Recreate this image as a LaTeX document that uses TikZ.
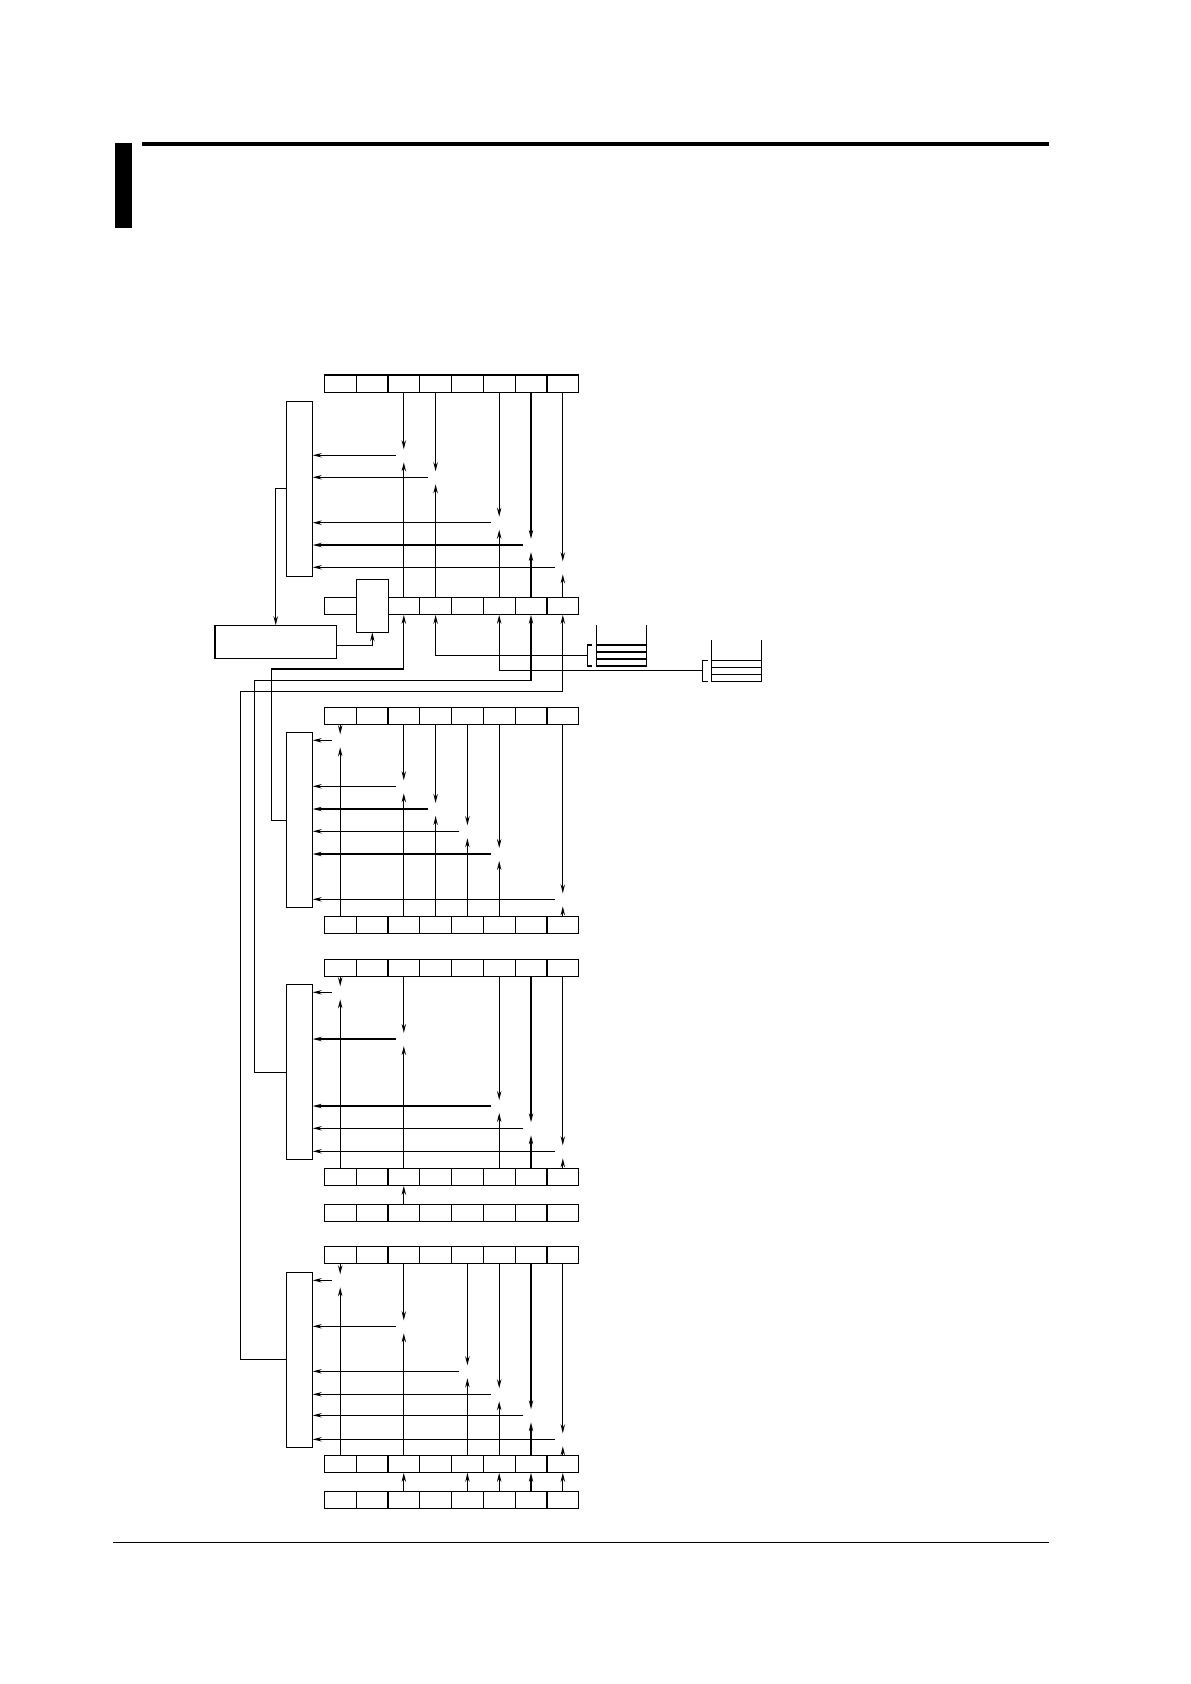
\documentclass[tikz,border=0pt]{standalone}
\usetikzlibrary{arrows.meta,calc}

% one register of 8 cells, #1 name, #2 top edge
\newcommand{\regrow}[2]{%
  \foreach \i in {1,...,8}
    \node[cell] (#1-\i) at (324.3+31.8*\i-15.9,#2+8.75) {};
}
% crossing: #1 upper reg, #2 lower reg, #3 cell, #4 y of line, #5 box
\newcommand{\tapline}[5]{%
  \draw[->] (#1-#3.south) -- ($(#1-#3.south |- 0,#4)+(0,-6)$);
  \draw[->] (#2-#3.north) -- ($(#2-#3.north |- 0,#4)+(0,7)$);
  \draw[->] ($(#1-#3.south |- 0,#4)+(-8,0)$) -- (#5.east |- 0,#4);
}
% tank, #1 name, #2 left wall, #3 top
\newcommand{\tank}[3]{%
  \draw (#2,#3) -- ++(0,41) -- ++(50,0) -- ++(0,-41);
  \foreach \k in {20,27,34} \draw (#2,#3+\k) -- ++(50,0);
  \draw (#2-4,#3+20) -- ++(-5,0) -- ++(0,21) -- ++(5,0);
  \coordinate (#1) at (#2-9,#3+30.5);
}

\begin{document}
\begin{tikzpicture}[x=0.5pt,y=-0.5pt,line width=0.6pt,
    >={Stealth[length=4.5pt,width=2.2pt]},
    cell/.style={draw,minimum width=15.9pt,minimum height=8.75pt,inner sep=0pt,outer sep=0pt},
    tallbox/.style={draw,minimum width=13.2pt,minimum height=87.5pt,inner sep=0pt,outer sep=0pt}]
  \useasboundingbox (0,0) rectangle (1190,1684);

  % page header and footer
  \fill (115,143) rectangle (132,227.7);
  \fill (142,142) rectangle (1049,146);
  \draw (113,1542.3) -- (1049,1542.3);

  % registers
  \regrow{R1}{375}
  \regrow{R2}{597.3}
  \regrow{R3}{707.3}
  \regrow{R4}{916.3}
  \regrow{R5}{959.3}
  \regrow{R6}{1168.3}
  \regrow{R7}{1204.3}
  \regrow{R8}{1246.3}
  \regrow{R9}{1455.3}
  \regrow{R10}{1491.3}

  % boxes
  \node[tallbox] (A) at (299.5,488.8) {};
  \node[tallbox] (B) at (299.5,820.3) {};
  \node[tallbox] (C) at (299.5,1072.2) {};
  \node[tallbox] (D) at (299.5,1359.8) {};
  \node[draw,fill=white,minimum width=16pt,minimum height=26.5pt,inner sep=0pt,outer sep=0pt] (S) at (372.3,605.8) {};
  \node[draw,minimum width=60.75pt,minimum height=16.5pt,inner sep=0pt,outer sep=0pt] (M) at (275.7,641.8) {};

  % first block
  \tapline{R1}{R2}{3}{455.3}{A}
  \tapline{R1}{R2}{4}{477.3}{A}
  \tapline{R1}{R2}{6}{522.7}{A}
  \tapline{R1}{R2}{7}{545}{A}
  \tapline{R1}{R2}{8}{567.3}{A}
  \draw[->] (A.west) -| (M.north);
  \draw[->] ([yshift=-1.75pt]M.east) -| (S.south);

  % tanks
  \tank{T1}{596.3}{625}
  \tank{T2}{711.7}{640.3}
  \draw[->] (T1) -| (R2-4.south);
  \draw[->] (T2) -| (R2-6.south);

  % feedback into R2
  \draw[->] (B.west) -| (271.3,669) -| (R2-3.south);
  \draw[->] (C.west) -| (254.3,680.3) -| (R2-7.south);
  \draw[->] (D.west) -| (240.3,691.3) -| (R2-8.south);

  % second block
  \tapline{R3}{R4}{1}{740.3}{B}
  \tapline{R3}{R4}{3}{786.3}{B}
  \tapline{R3}{R4}{4}{809}{B}
  \tapline{R3}{R4}{5}{831.3}{B}
  \tapline{R3}{R4}{6}{854}{B}
  \tapline{R3}{R4}{8}{899.3}{B}

  % third block
  \tapline{R5}{R6}{1}{992.3}{C}
  \tapline{R5}{R6}{3}{1039}{C}
  \tapline{R5}{R6}{6}{1106}{C}
  \tapline{R5}{R6}{7}{1128.3}{C}
  \tapline{R5}{R6}{8}{1151.3}{C}
  \draw[->] (R7-3.north) -- (R6-3.south);

  % fourth block
  \tapline{R8}{R9}{1}{1280.3}{D}
  \tapline{R8}{R9}{3}{1326.3}{D}
  \tapline{R8}{R9}{5}{1371.3}{D}
  \tapline{R8}{R9}{6}{1394.3}{D}
  \tapline{R8}{R9}{7}{1415.3}{D}
  \tapline{R8}{R9}{8}{1439.3}{D}
  \foreach \j in {3,5,6,7,8}
    \draw[->] (R10-\j.north) -- (R9-\j.south);
\end{tikzpicture}
\end{document}
